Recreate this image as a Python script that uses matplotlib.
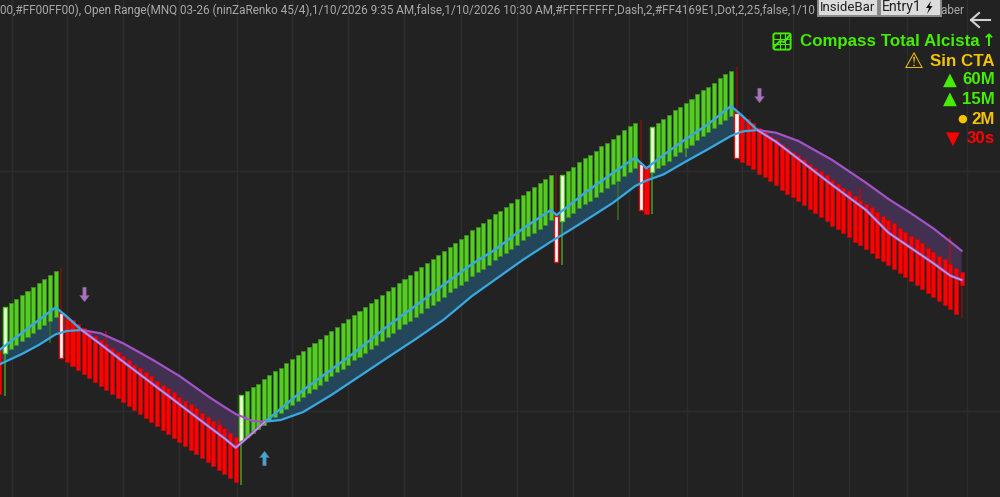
import numpy as np
import matplotlib
matplotlib.use('Agg')
import matplotlib.pyplot as plt
from matplotlib.patches import FancyBboxPatch, Polygon, Rectangle
from matplotlib.path import Path

# Renko bricks: y values are chart rows
first_bar = -1
body_top = [
    350.0,
    307.3, 303.3, 299.3, 295.0, 291.0, 287.0, 283.3, 279.0, 275.0, 271.0,
    312.7, 316.7, 320.0, 324.0, 328.0, 332.0, 336.0, 340.0, 344.0, 348.3,
    352.3, 356.0, 360.0, 364.7, 368.3, 372.0, 376.0, 380.7, 384.7, 388.3,
    392.3, 396.7, 400.7, 404.3, 408.0, 412.7, 416.7, 420.7, 424.0, 428.0,
    432.7, 436.7,
    395.3, 391.0, 387.3, 383.7, 379.0, 375.0, 371.0, 367.7, 363.0, 359.0,
    355.3, 351.3, 347.0, 343.0, 339.0, 335.3, 330.7, 326.7, 323.0, 319.0,
    314.7, 311.0, 307.0, 303.0, 299.3, 295.0, 291.0, 287.0, 283.0, 278.7,
    275.0, 271.0, 267.3, 262.7, 259.0, 255.0, 251.0, 246.7, 242.7, 239.0,
    235.0, 230.3, 226.7, 223.0, 219.0, 214.3, 210.7, 207.0, 203.0, 199.0,
    194.7, 190.7, 187.0, 183.0, 179.0, 174.7,
    216.0,
    175.0, 171.0, 167.0, 162.3, 158.3, 155.0, 151.0, 146.3, 142.7, 138.7,
    135.0, 130.0, 126.3, 122.7,
    164.3, 168.0,
    126.7, 122.7, 119.0, 115.0, 110.3, 106.7, 102.7, 99.0, 94.3, 90.3,
    86.7, 82.7, 78.3, 74.3, 70.7,
    112.7, 116.0, 119.3, 123.3, 128.0, 131.7, 135.7, 139.3, 144.0, 148.0,
    151.7, 155.3, 159.3, 163.7, 167.7, 171.3, 175.3, 180.0, 183.7, 187.7,
    191.3, 196.0, 199.7, 203.7, 207.3, 212.0, 215.7, 219.7, 223.3, 227.7,
    231.7, 235.7, 239.3, 243.3, 247.7, 251.7, 255.7, 259.3, 263.7, 268.0,
    271.7,
]
brick_size = 45.5
last_body_bot = 285.3

# bars where the direction flips, painted white
reversal_bars = [0, 10, 42, 98, 99, 113, 115, 130]

wick_bars = [0, 8, 10, 18, 38, 42, 98, 99, 109, 113, 115, 121, 130, 152, 168, 170]
wick_top = [352, 320, 268, 331, 419, 440, 172, 220, 181, 120, 172, 148, 67, 188, 237, 285]
wick_bot = [396, 343, 313, 344, 424, 485, 216, 265, 220, 164, 214, 157, 112, 200, 264, 318]

# the two moving averages
line_idx = [-1, 3, 6, 9, 11, 13.6, 17, 21, 26, 31, 36, 39, 41, 44, 46.2, 49, 53,
            58, 62, 68, 73, 78, 83, 87, 92, 97, 98, 99, 103, 108, 112, 114, 117,
            121, 125, 129, 131, 133.7, 137, 141, 147, 153, 157, 161, 165, 168, 170]
fast_line = [350, 333, 320, 307.3, 316.7, 330, 344.3, 361.7, 383, 404.3, 425.7,
             438.3, 447.7, 433, 421.7, 408.7, 390, 369.5, 353, 326, 305.5, 284.5,
             264, 250, 228.7, 210, 215, 211, 193, 173, 157.7, 168.3, 155, 139,
             124, 106, 115.7, 130, 141.7, 159, 185, 210, 232.7, 248, 263.3, 275.7, 280]
slow_line = [364.5, 354, 345, 334.3, 331, 330, 333.3, 343.3, 359, 376, 396,
             407, 414, 421, 421.7, 420, 412, 395, 380, 357.5, 339, 319.5,
             296, 280, 260, 241.7, 238.3, 235, 221, 203, 186, 180.5, 174.5, 161.5,
             149, 136, 131.5, 130, 132.7, 141, 160, 182.7, 199, 213.3, 228.5, 241.7, 250.7]

signal_idx = [14, 134, 46]
signal_row = [294, 95, 458]
signal_up = [False, False, True]

grid_x = [11.5, 66.7, 123.3, 179.3, 236.7, 292.3, 348.3, 404.3, 461.3, 517.3,
          573.3, 629.3, 686.7, 742.3, 793, 849.3, 906.7, 967]
grid_y = [171, 411]

header_text = ("00,#FF00FF00), Open Range(MNQ 03-26 (ninZaRenko 45/4),1/10/2026 9:35 AM,"
               "false,1/10/2026 10:30 AM,#FFFFFFFF,Dash,2,#FF4169E1,Dot,2,25,false,1/10")
header_tail = "saber"
button_labels = ['InsideBar', 'Entry1']
status_labels = ['Sin CTA', '60M', '15M', '2M', '30s']
status_colors = ['#f5c400', '#44ee00', '#44ee00', '#f5c400', '#ff0000']
status_rows = [61.5, 79.5, 99, 119, 138.5]
status_marks = ['\u25b2', '\u25b2', '\u25cf', '\u25bc']
mark_x = [950, 950, 962, 953]
mark_size = [13, 13, 8, 13]

BG = '#222222'
GRID = '#2d2d2d'
GREEN = '#55cc22'
GREEN_EDGE = '#3d8a22'
RED = '#ff0000'
RED_EDGE = '#c00808'
BLUE = '#3aa9e2'
PURPLE = '#a453c6'

step = 5.627
fig = plt.figure(figsize=(10, 4.97), dpi=100, facecolor=BG)

# bottom layer in pixels for the gridlines
under = fig.add_axes([0, 0, 1, 1], facecolor=BG)
under.set_xlim(0, 1000)
under.set_ylim(497, 0)
under.axis('off')
under.set_zorder(0)
for gx in grid_x:
    under.axvline(gx, color=GRID, lw=1)
for gy in grid_y:
    under.axhline(gy, color=GRID, lw=1)

ax = fig.add_axes([0, 0, 1, 1])
ax.set_xlim(-5 / step, 995 / step)
ax.set_ylim(497, 0)
ax.axis('off')
ax.patch.set_visible(False)
ax.set_zorder(1)

# overlay in plain pixels for the on-screen furniture
ov = fig.add_axes([0, 0, 1, 1], facecolor='none')
ov.set_xlim(0, 1000)
ov.set_ylim(497, 0)
ov.axis('off')
ov.set_zorder(2)

# direction of every brick
idx = np.arange(first_bar, first_bar + len(body_top))
tops = np.array(body_top)
bots = tops + brick_size
bots[-1] = last_body_bot
bots[0] = 394
is_up = np.zeros(len(idx), dtype=bool)
state = False
for k, b in enumerate(idx):
    if b in reversal_bars:
        state = not state
    is_up[k] = state
is_rev = np.isin(idx, reversal_bars)

lx = np.array(line_idx)
fast = np.array(fast_line)
slow = np.array(slow_line)
rising = fast <= slow
falling = fast >= slow

ax.fill_between(lx, fast, slow, where=rising, color='#24465b', lw=0, zorder=1)
ax.fill_between(lx, fast, slow, where=falling, color='#413050', lw=0, zorder=1)

for b, t, e in zip(wick_bars, wick_top, wick_bot):
    up = is_up[b - first_bar]
    dim = b in (8, 10, 98, 109, 113, 130, 170)
    if up:
        col = '#3c6e20' if dim else '#4c9a24'
    else:
        col = '#7c1212' if dim else '#b01010'
    ax.plot([b, b], [t, e], color=col, lw=1.1, zorder=2, solid_capstyle='butt')

w = 0.72
ax.bar(idx[is_up & ~is_rev], (bots - tops)[is_up & ~is_rev], bottom=tops[is_up & ~is_rev], width=w,
       color=GREEN, edgecolor=GREEN_EDGE, lw=0.6, zorder=3)
ax.bar(idx[~is_up & ~is_rev], (bots - tops)[~is_up & ~is_rev], bottom=tops[~is_up & ~is_rev], width=w,
       color=RED, edgecolor=RED_EDGE, lw=0.5, zorder=3)
ax.bar(idx[is_up & is_rev], (bots - tops)[is_up & is_rev], bottom=tops[is_up & is_rev], width=w,
       color='#f6ffe8', edgecolor=GREEN, lw=1.0, zorder=3)
ax.bar(idx[~is_up & is_rev], (bots - tops)[~is_up & is_rev], bottom=tops[~is_up & is_rev], width=w,
       color='#ffffff', edgecolor='#e01010', lw=1.0, zorder=3)

ax.plot(lx, np.ma.masked_where(~rising, slow), color=BLUE, lw=1.6, zorder=4)
ax.plot(lx, np.ma.masked_where(~falling, slow), color=PURPLE, lw=1.6, zorder=4)
ax.plot(lx, np.ma.masked_where(~rising, fast), color=BLUE, lw=1.7, zorder=5)
ax.plot(lx, np.ma.masked_where(~falling, fast), color=PURPLE, lw=2.0, zorder=5)
ax.plot(lx, np.ma.masked_where(~falling, fast), color='#b9a2ee', lw=0.9, zorder=5)

# signal arrows (marker paths are y-up, not affected by the inverted axis)
arrow_up = Path([(-1.6, -7), (1.6, -7), (1.6, 1), (4.6, 1), (0, 7), (-4.6, 1), (-1.6, 1), (-1.6, -7)],
                closed=True)
arrow_down = Path([(-1.6, 7), (1.6, 7), (1.6, -1), (4.6, -1), (0, -7), (-4.6, -1), (-1.6, -1), (-1.6, 7)],
                  closed=True)
for si, sr, su in zip(signal_idx, signal_row, signal_up):
    ax.plot([si], [sr], marker=arrow_up if su else arrow_down, ms=10.5,
            mfc=BLUE if su else '#b06cc8', mec='#6b6b6b', mew=0.4, ls='none', zorder=6)

# header line and buttons
ov.text(0, 10.5, header_text, color='#a9a9a9', fontsize=8.5, family='Roboto', va='center', ha='left')
ov.text(965, 10.5, header_tail, color='#a9a9a9', fontsize=8.5, family='Roboto', va='center', ha='right')
for bx, bw, lab, tsize in zip([817.5, 879.5], [60, 61], button_labels, [9.5, 10.2]):
    ov.add_patch(Rectangle((bx, -2), bw, 18, fc='#dcdcdc', ec='#8a8a8a', lw=1.4, zorder=5))
    ov.text(bx + 2.5, 7.5, lab, color='#222222', fontsize=tsize, family='Roboto', va='center', ha='left', zorder=6)
ov.add_patch(Polygon([(931, 1), (926, 8), (929, 8), (927, 14), (932.5, 6), (929.5, 6)], fc='#111111', ec='none', zorder=6))

# back arrow
ov.plot([971, 989.5], [20, 20], color='#d2d2d2', lw=1.5)
ov.plot([979, 971, 979], [13, 20, 27], color='#d2d2d2', lw=1.5)

# status panel
ov.text(980, 41.5, 'Compass Total Alcista', color='#44ee00', fontsize=12.2, weight='bold',
        family='Liberation Sans', va='center', ha='right')
ov.text(995.5, 41.5, '\u2191', color='#44ee00', fontsize=12, weight='bold',
        family='DejaVu Sans', va='center', ha='right')
for lab, col, row in zip(status_labels, status_colors, status_rows):
    ov.text(995, row, lab, color=col, fontsize=12.2, weight='bold', family='Liberation Sans', va='center', ha='right')
for mk, mx, ms, col, row in zip(status_marks, mark_x, mark_size, status_colors[1:], status_rows[1:]):
    ov.text(mx, row, mk, color=col, fontsize=ms, family='DejaVu Sans', va='center', ha='center')
ov.text(913.5, 62, '\u26a0', color='#f5c400', fontsize=16, family='DejaVu Sans', va='center', ha='center')

# compass icon
ov.add_patch(FancyBboxPatch((774, 34), 16, 15, boxstyle='round,pad=0.6,rounding_size=2',
                            fc='none', ec='#44ee00', lw=1.4))
for v in (779.5, 785):
    ov.plot([v, v], [34, 49], color='#44ee00', lw=0.8)
for h in (39, 44):
    ov.plot([774, 790], [h, h], color='#44ee00', lw=0.8)
ov.plot([774, 780, 784, 790], [47, 41, 42, 35], color='#44ee00', lw=1.4)

plt.savefig('out.png', dpi=100, facecolor=BG)
